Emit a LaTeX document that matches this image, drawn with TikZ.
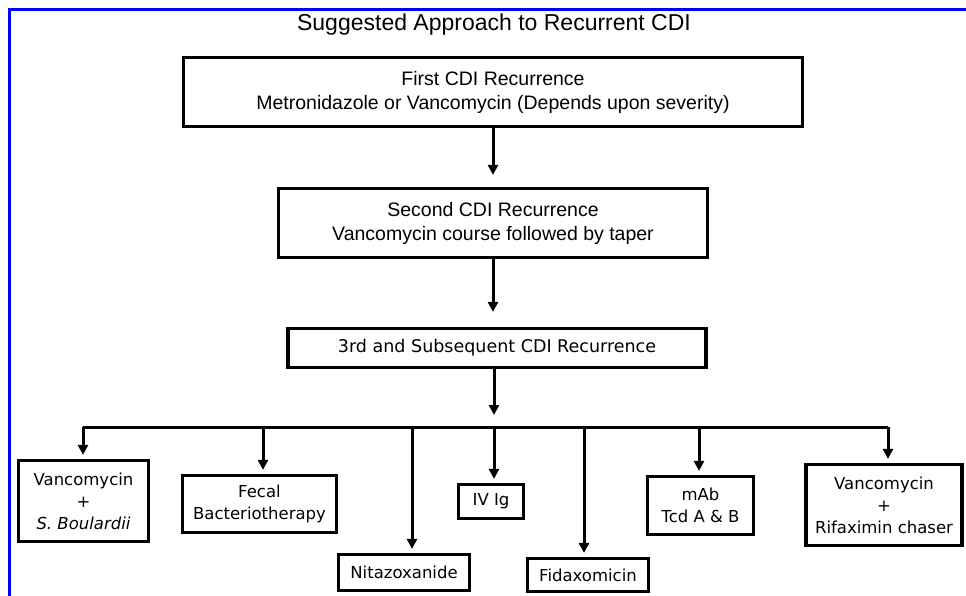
\documentclass[tikz,border=0pt]{standalone}
\usepackage{fontspec}
\setmainfont{Liberation Sans}
\newfontfamily\optfont{DejaVu Sans}
\usetikzlibrary{arrows.meta}
\tikzset{
  box/.style={draw, line width=3.2pt, inner sep=0pt, align=center},
  arr/.style={line width=3pt, -{Triangle[length=10pt,width=10pt]}},
  stage/.style={box, font=\fontsize{19.5}{24}\selectfont},
  opt/.style={box, font=\optfont\fontsize{16.5}{22}\selectfont},
}
\begin{document}
\begin{tikzpicture}[x=1pt,y=-1pt]
\useasboundingbox (0,0) rectangle (966,596);
\draw[blue, line width=3pt] (9,596) -- (9,10) -- (966,10);

\node[font=\fontsize{23}{27}\selectfont] (title) at (494,25) {Suggested Approach to Recurrent CDI};
\node[stage, minimum width=619pt, minimum height=69pt] (first) at (493,92)
  {First CDI Recurrence\\Metronidazole or Vancomycin (Depends upon severity)};
\node[stage, minimum width=429pt, minimum height=69pt] (second) at (493,223)
  {Second CDI Recurrence\\Vancomycin course followed by taper};
\node[opt, minimum width=418pt, minimum height=39pt, font=\optfont\fontsize{17.5}{22}\selectfont] (third) at (497,348) {3rd and Subsequent CDI Recurrence};

\node[opt, minimum width=130pt, minimum height=81pt] (vsb) at (83.5,501) {Vancomycin\\+\\\textit{S. Boulardii}};
\node[opt, minimum width=154pt, minimum height=57pt] (fecal) at (259.5,504) {Fecal\\Bacteriotherapy};
\node[opt, minimum width=131pt, minimum height=36pt] (nitaz) at (404,572.5) {Nitazoxanide};
\node[opt, minimum width=65pt, minimum height=34pt] (ivig) at (491,501.5) {IV Ig};
\node[opt, minimum width=121pt, minimum height=33pt] (fidax) at (588,575) {Fidaxomicin};
\node[opt, minimum width=106pt, minimum height=58pt] (mab) at (700.5,505.5) {mAb\\Tcd A \& B};
\node[opt, minimum width=156pt, minimum height=81pt] (vrif) at (884,505) {Vancomycin\\+\\Rifaximin chaser};

\coordinate (hub) at (494,427);
\draw[arr, shorten >=12pt] (first) -- (second);
\draw[arr, shorten >=15pt] (second.south) -- (second.south |- third.north);
\draw[arr, shorten >=12pt] (hub |- third.south) -- (hub);
\draw[line width=3pt] (83,427) -- (888,427);
\foreach \n/\x in {vsb/83, fecal/263, nitaz/412, ivig/494, fidax/584, mab/699, vrif/888}
  \draw[arr, shorten >=4pt] (\x,427) -- (\x,427 |- \n.north);
\end{tikzpicture}
\end{document}
